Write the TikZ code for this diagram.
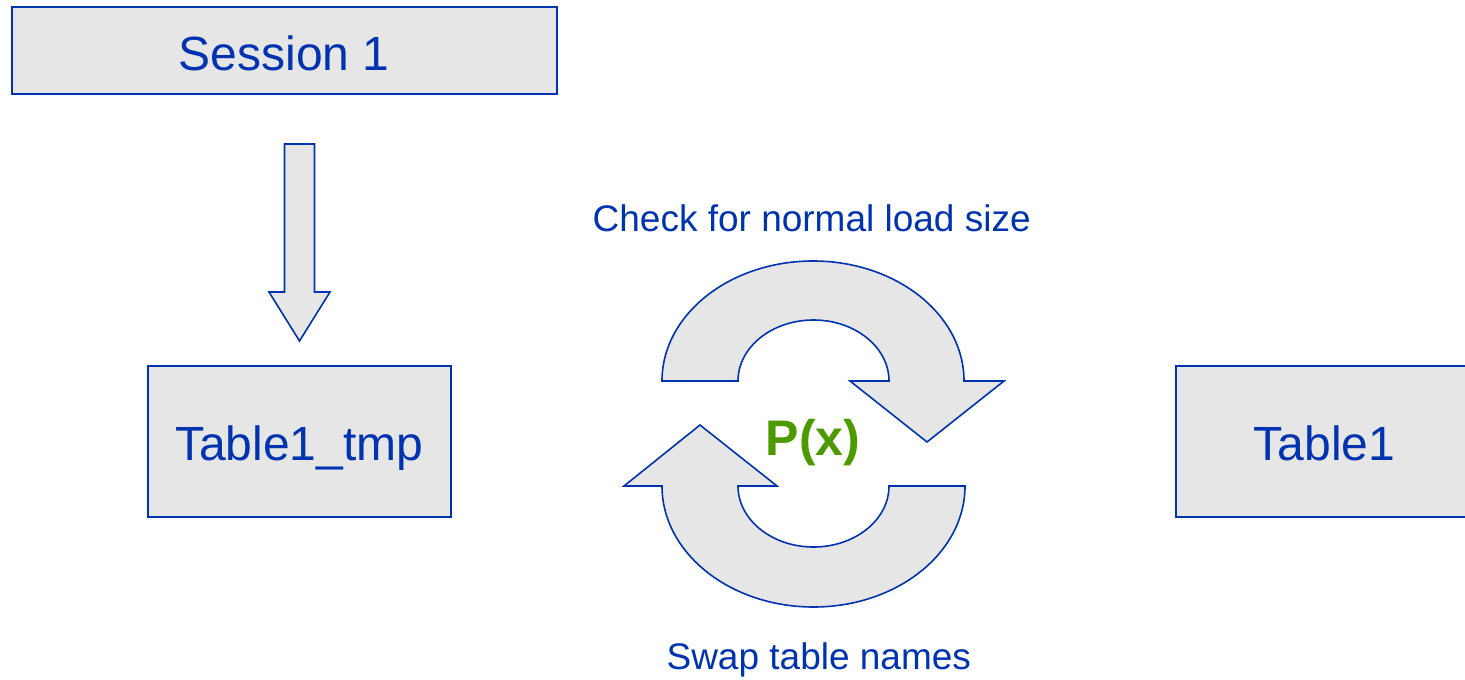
\documentclass[tikz,border=0pt]{standalone}
\usepackage{fontspec}
\setmainfont{Liberation Sans}
\definecolor{dblue}{RGB}{0,51,176}
\definecolor{lgray}{RGB}{230,230,230}
\definecolor{pgreen}{RGB}{77,153,0}
\tikzset{
  boxnode/.style={draw=dblue, fill=lgray, line width=2pt, text=dblue, inner sep=0pt,
    font=\fontsize{48}{58}\selectfont, text height=37.6pt, text depth=0pt},
  blockarrow/.style={draw=dblue, fill=lgray, line width=1.6pt, line join=miter},
  lbl/.style={text=dblue, inner sep=0pt, anchor=base, font=\fontsize{37}{44}\selectfont}
}
\begin{document}
\begin{tikzpicture}[x=1pt, y=-1pt]
\useasboundingbox (0,0) rectangle (1465,680);
\clip (0,0) rectangle (1465,680);
% boxes
\node[boxnode, minimum width=545.3pt, minimum height=86.7pt, text height=38.6pt] (s1) at (284.3,50.7) {Session 1};
\node[boxnode, minimum width=303.3pt, minimum height=151pt] (tmp) at (299.3,441.2) {Table1\_tmp};
\node[boxnode, minimum width=297pt, minimum height=151pt] (t1) at (1324.5,441.2) {Table1};
% down block arrow
\draw[blockarrow] (284.5,144) -- (314.5,144) -- (314.5,292) -- (330,292) -- (299.5,341) -- (269,292) -- (284.5,292) -- cycle;
% top circular arrow
\draw[blockarrow] (662,381) arc[start angle=180, end angle=360, x radius=151, y radius=120]
  -- (1004,381) -- (927,442) -- (850,381) -- (889,381)
  arc[start angle=0, end angle=-180, x radius=75.5, y radius=61] -- cycle;
% bottom circular arrow
\draw[blockarrow] (965,486) arc[start angle=0, end angle=180, x radius=151.5, y radius=121]
  -- (624,486) -- (700,425) -- (777,486) -- (738,486)
  arc[start angle=180, end angle=0, x radius=75.5, y radius=61] -- cycle;
% labels
\node[lbl] (chk) at (811.7,231.7) {Check for normal load size};
\node[lbl] (swp) at (818.8,669) {Swap table names};
\node[inner sep=0pt, anchor=base, text=pgreen, font=\fontsize{50}{60}\selectfont\bfseries] (px) at (813,455.6) {P(x)};
\end{tikzpicture}
\end{document}
